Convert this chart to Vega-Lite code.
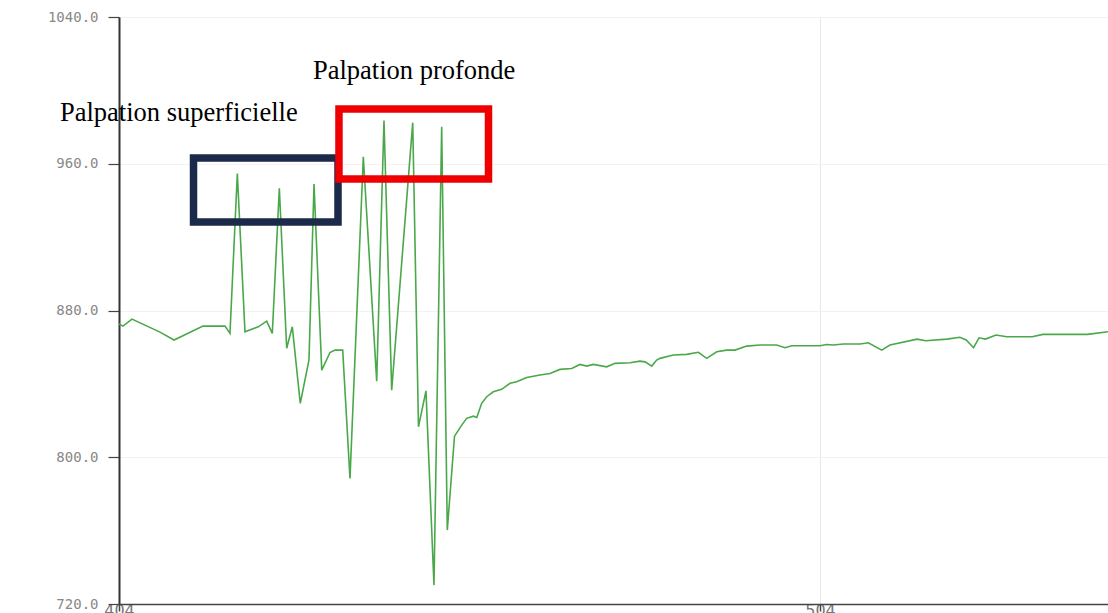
{
  "$schema": "https://vega.github.io/schema/vega-lite/v6.json",
  "autosize": {"type": "none"},
  "padding": {"left": 119, "top": 17, "right": 0, "bottom": 9},
  "width": 989,
  "height": 587,
  "background": "white",
  "config": {"view": {"stroke": null}},
  "datasets": {
    "signal": [
      {"t": 404.0, "v": 872.6}, {"t": 404.57, "v": 871.5}, {"t": 405.85, "v": 875.3}, {"t": 409.85, "v": 868.2},
      {"t": 411.85, "v": 863.9}, {"t": 415.98, "v": 871.5}, {"t": 419.12, "v": 871.5}, {"t": 419.83, "v": 867.5},
      {"t": 420.88, "v": 954.7}, {"t": 421.97, "v": 868.4}, {"t": 423.87, "v": 871.1}, {"t": 425.07, "v": 874.2},
      {"t": 425.87, "v": 867.5}, {"t": 426.87, "v": 946.6}, {"t": 427.92, "v": 859.4}, {"t": 428.72, "v": 871.1},
      {"t": 429.86, "v": 829.4}, {"t": 431.1, "v": 853.0}, {"t": 431.82, "v": 948.9}, {"t": 432.92, "v": 847.5},
      {"t": 434.1, "v": 857.1}, {"t": 434.81, "v": 858.4}, {"t": 435.91, "v": 858.4}, {"t": 436.95, "v": 788.5},
      {"t": 438.85, "v": 963.8}, {"t": 440.76, "v": 841.5}, {"t": 441.8, "v": 983.5}, {"t": 442.9, "v": 836.6},
      {"t": 445.9, "v": 982.4}, {"t": 446.72, "v": 816.6}, {"t": 447.79, "v": 836.2}, {"t": 448.93, "v": 730.3},
      {"t": 450.03, "v": 980.2}, {"t": 450.83, "v": 760.3}, {"t": 451.86, "v": 811.5}, {"t": 452.89, "v": 817.5},
      {"t": 453.6, "v": 821.2}, {"t": 454.54, "v": 822.4}, {"t": 455.03, "v": 821.7}, {"t": 455.74, "v": 829.4},
      {"t": 456.45, "v": 833.0}, {"t": 457.39, "v": 835.7}, {"t": 458.59, "v": 837.0}, {"t": 459.78, "v": 840.3},
      {"t": 460.73, "v": 841.1}, {"t": 462.16, "v": 843.5}, {"t": 464.06, "v": 844.8}, {"t": 465.48, "v": 845.7},
      {"t": 466.91, "v": 847.9}, {"t": 468.58, "v": 848.4}, {"t": 469.76, "v": 850.6}, {"t": 470.72, "v": 849.7},
      {"t": 471.66, "v": 850.6}, {"t": 473.57, "v": 849.3}, {"t": 474.76, "v": 851.2}, {"t": 476.9, "v": 851.5},
      {"t": 478.32, "v": 852.4}, {"t": 479.04, "v": 852.0}, {"t": 480.0, "v": 849.7}, {"t": 480.7, "v": 853.0},
      {"t": 481.18, "v": 853.9}, {"t": 483.07, "v": 855.7}, {"t": 484.98, "v": 856.1}, {"t": 486.64, "v": 857.2},
      {"t": 487.84, "v": 853.9}, {"t": 489.26, "v": 857.5}, {"t": 490.69, "v": 858.4}, {"t": 491.87, "v": 858.4},
      {"t": 493.54, "v": 860.6}, {"t": 495.44, "v": 861.2}, {"t": 497.82, "v": 861.2}, {"t": 499.01, "v": 859.7},
      {"t": 499.96, "v": 860.8}, {"t": 504.0, "v": 860.8}, {"t": 504.95, "v": 861.5}, {"t": 505.9, "v": 861.2},
      {"t": 507.32, "v": 861.7}, {"t": 509.7, "v": 861.7}, {"t": 510.89, "v": 862.4}, {"t": 512.8, "v": 858.4},
      {"t": 513.98, "v": 861.2}, {"t": 517.86, "v": 864.4}, {"t": 519.08, "v": 863.5}, {"t": 522.12, "v": 864.4},
      {"t": 523.94, "v": 865.4}, {"t": 524.86, "v": 863.9}, {"t": 525.9, "v": 859.7}, {"t": 526.68, "v": 865.1},
      {"t": 527.6, "v": 864.4}, {"t": 529.11, "v": 866.6}, {"t": 530.63, "v": 865.7}, {"t": 534.27, "v": 865.7},
      {"t": 535.8, "v": 867.0}, {"t": 539.75, "v": 867.0}, {"t": 542.17, "v": 867.0}, {"t": 545.08, "v": 868.4}
    ],
    "boxes": [
      {"box": "superficielle", "x1": 414.63, "x2": 435.24, "y1": 963.1, "y2": 928.2},
      {"box": "profonde", "x1": 435.38, "x2": 456.71, "y1": 989.8, "y2": 951.7}
    ],
    "labels": [
      {"label": "Palpation superficielle", "x": 395.58, "y": 983.3},
      {"label": "Palpation profonde", "x": 431.67, "y": 1006.2}
    ]
  },
  "layer": [
    {
      "data": {"name": "signal"},
      "mark": {"type": "line", "color": "#4aa84a", "strokeWidth": 1.6, "clip": false},
      "encoding": {
        "x": {
          "field": "t", "type": "quantitative",
          "scale": {"domain": [404, 545.08], "nice": false, "zero": false},
          "axis": {
            "values": [404, 504], "format": "d", "title": null,
            "labelFont": "DejaVu Sans", "labelFontSize": 16, "labelColor": "#777777",
            "labelPadding": -9, "labelBaseline": "top", "labelFlush": false, "labelOverlap": false,
            "domainColor": "#444444", "domainWidth": 1.5,
            "tickColor": "#444444", "tickSize": 7, "tickWidth": 1.5,
            "grid": true, "gridColor": "#e8e8e8", "gridWidth": 1
          }
        },
        "y": {
          "field": "v", "type": "quantitative",
          "scale": {"domain": [720, 1040], "nice": false, "zero": false},
          "axis": {
            "values": [720, 800, 880, 960, 1040], "format": ".1f", "title": null,
            "labelFont": "DejaVu Sans Mono", "labelFontSize": 14, "labelColor": "#888888",
            "labelPadding": 10, "labelFlush": false,
            "domainColor": "#333333", "domainWidth": 2,
            "tickColor": "#444444", "tickSize": 11, "tickWidth": 1.2,
            "grid": true, "gridColor": "#f2f2f2", "gridWidth": 1
          }
        }
      }
    },
    {
      "data": {"name": "boxes"},
      "mark": {"type": "rect", "fill": null, "fillOpacity": 0, "strokeWidth": 7.5, "clip": false},
      "encoding": {
        "x": {"field": "x1", "type": "quantitative"},
        "x2": {"field": "x2"},
        "y": {"field": "y1", "type": "quantitative"},
        "y2": {"field": "y2"},
        "stroke": {
          "field": "box", "type": "nominal",
          "scale": {"domain": ["superficielle", "profonde"], "range": ["#1b2a4a", "#ee0000"]},
          "legend": null
        }
      }
    },
    {
      "data": {"name": "labels"},
      "mark": {"type": "text", "font": "Liberation Serif", "fontSize": 26.5, "align": "left", "baseline": "alphabetic", "color": "#000000", "clip": false},
      "encoding": {
        "x": {"field": "x", "type": "quantitative"},
        "y": {"field": "y", "type": "quantitative"},
        "text": {"field": "label"}
      }
    }
  ]
}
